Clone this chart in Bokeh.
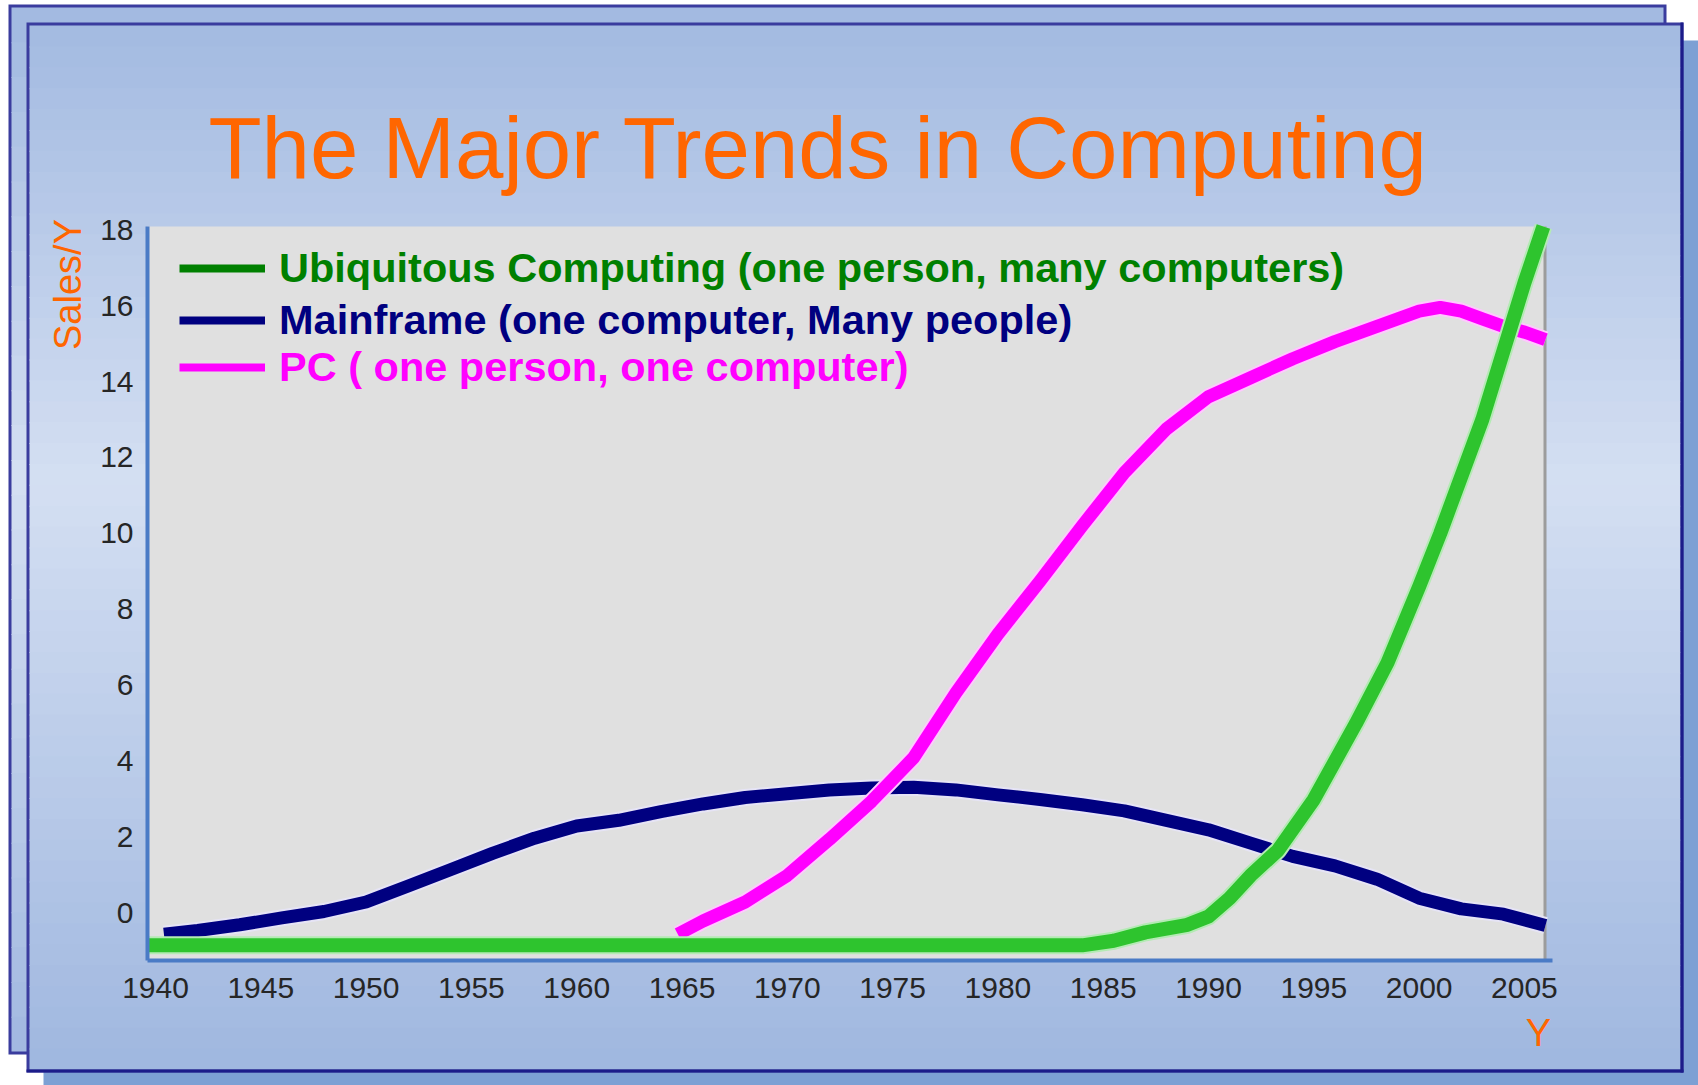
import math
from bokeh.plotting import figure
from bokeh.models import (ColumnDataSource, Range1d, FixedTicker, BoxAnnotation,
                          Label, Legend, LegendItem)
from bokeh.embed import file_html
from bokeh.resources import INLINE

# ---------------- data ----------------
TITLE = "The Major Trends in Computing"
Y_LABEL = "Sales/Y"
X_LABEL = "Y"
x_ticks = [1940, 1945, 1950, 1955, 1960, 1965, 1970, 1975, 1980, 1985, 1990, 1995, 2000, 2005]
y_ticks = [0, 2, 4, 6, 8, 10, 12, 14, 16, 18]

ubi_name = "Ubiquitous Computing (one person, many computers)"
ubi_years = [1939.62, 1984, 1985.5, 1987, 1989, 1990, 1991, 1992, 1993.3, 1995, 1997,
             1998.5, 2000, 2001, 2002, 2003, 2004, 2005, 2005.9]
ubi_values = [-0.84, -0.84, -0.72, -0.5, -0.3, -0.08, 0.4, 1.0, 1.66, 3.0, 5.0,
              6.6, 8.6, 10.0, 11.5, 13.0, 14.8, 16.6, 18.08]

main_name = "Mainframe (one computer, Many people)"
main_years = [1940.4, 1942, 1944, 1946, 1948, 1950, 1952, 1954, 1956, 1958, 1960, 1962,
              1964, 1966, 1968, 1970, 1972, 1974, 1976, 1978, 1980, 1982, 1984, 1986,
              1988, 1990, 1992, 1994, 1996, 1998, 2000, 2002, 2004, 2006.0]
main_values = [-0.55, -0.45, -0.3, -0.12, 0.05, 0.3, 0.72, 1.15, 1.58, 1.98, 2.3, 2.45,
               2.68, 2.88, 3.05, 3.15, 3.25, 3.3, 3.32, 3.25, 3.12, 3.0, 2.86, 2.7,
               2.45, 2.2, 1.85, 1.5, 1.25, 0.9, 0.4, 0.12, -0.02, -0.32]

pc_name = "PC ( one person, one computer)"
pc_years = [1964.8, 1966, 1968, 1970, 1972, 1974, 1976, 1978, 1980, 1982, 1984, 1986,
            1988, 1990, 1992, 1994, 1996, 1998, 2000, 2001, 2002, 2003, 2004, 2005, 2006.0]
pc_values = [-0.55, -0.2, 0.3, 1.0, 1.95, 2.95, 4.1, 5.8, 7.35, 8.75, 10.2, 11.6,
             12.75, 13.6, 14.1, 14.6, 15.05, 15.45, 15.85, 15.95, 15.85, 15.65, 15.45, 15.3, 15.1]

# ---------------- layout (canvas pixels, origin top-left) ----------------
W, H = 1698, 1085
FL, FR, FT, FB = 147, 1545, 226, 960          # plot area box
X0, X1, Y0, Y1 = 1939.62, 2006.0, -1.24, 18.08  # data extent of plot area
pxx = (FR - FL) / (X1 - X0)
pxy = (FB - FT) / (Y1 - Y0)

p = figure(width=W, height=H, output_backend="svg", toolbar_location=None,
           x_range=Range1d(X0 - FL / pxx, X1 + (W - FR) / pxx),
           y_range=Range1d(Y0 - (H - FB) / pxy, Y1 + FT / pxy),
           min_border=0)
p.title.visible = False
p.border_fill_color = "white"
p.background_fill_color = "white"
p.outline_line_color = None
p.grid.visible = False

p.xaxis.ticker = FixedTicker(ticks=x_ticks)
p.yaxis.ticker = FixedTicker(ticks=y_ticks)
p.xaxis.fixed_location = Y0
p.yaxis.fixed_location = X0
p.xaxis.bounds = (X0, X1 + 7 / pxx)
p.yaxis.bounds = (Y0, Y1)
for ax in (p.xaxis[0], p.yaxis[0]):
    ax.major_tick_line_color = None
    ax.minor_tick_line_color = None
    ax.major_tick_in = 0
    ax.major_tick_out = 0
    ax.minor_tick_in = 0
    ax.minor_tick_out = 0
    ax.axis_line_color = "#4A7BC6"
    ax.axis_line_width = 4
    ax.major_label_text_font = "Liberation Sans"
    ax.major_label_text_font_size = "30px"
    ax.major_label_text_color = "#262626"
p.xaxis.major_label_standoff = 17
p.yaxis.major_label_standoff = 14


def box(x0, x1, y0, y1, color):
    b = BoxAnnotation(left=x0, right=x1, top=H - y0, bottom=H - y1,
                      left_units="screen", right_units="screen",
                      top_units="screen", bottom_units="screen",
                      fill_color=color, fill_alpha=1.0, line_color=None, level="underlay")
    p.add_layout(b)
    return b


stops = [(0, (160, 184, 224)), (480, (212, 223, 242)), (1085, (158, 182, 223))]


def grad(y):
    for (ya, ca), (yb, cb) in zip(stops[:-1], stops[1:]):
        if ya <= y <= yb:
            t = (y - ya) / (yb - ya)
            c = [round(a + (b - a) * t) for a, b in zip(ca, cb)]
            return "#%02x%02x%02x" % tuple(c)
    return "#%02x%02x%02x" % stops[-1][1]


def gradient(x0, x1, y0, y1, n=40):
    step = (y1 - y0) / n
    for i in range(n):
        a = y0 + i * step
        b = min(y1, a + step + 1)
        box(x0, x1, a, b, grad((a + b) / 2))


# shadow
box(43, 1698, 40, 1085, "#7DA0D4")
# back slide
box(8, 1666, 4, 1054, "#3A3C9E")
gradient(11, 1663, 7, 1051, n=30)
# front slide
box(26, 1683, 22, 1072, "#3A3C9E")
gradient(29, 1680, 25, 1069, n=50)
box(1680, 1683, 22, 1072, "#1C1C8A")
box(26, 1683, 1069, 1072, "#1C1C8A")
# plot area and its right border
box(FL, FR, FT, FB, "#E0E0E0")
box(FR - 2, FR + 1, FT, FB, "#9C9C9C")

# ---------------- series ----------------
series = [
    (main_years, main_values, "#000080", "#E6E4F6", 13),
    (pc_years, pc_values, "#FF00FF", "#FFC8FF", 13),
    (ubi_years, ubi_values, "#2EC42E", "#B4EAB4", 14),
]
for xs, ys, col, halo, lw in series:
    src = ColumnDataSource(data=dict(x=xs, y=ys))
    p.line("x", "y", source=src, line_color=halo, line_width=lw + 4, line_join="round")
    p.line("x", "y", source=src, line_color=col, line_width=lw, line_join="round")

# ---------------- legend ----------------
legend_specs = [
    (ubi_name, "#008000", "#008000", 268),
    (main_name, "#000080", "#000080", 320),
    (pc_name, "#FF00FF", "#FF00FF", 367),
]
ITEM_H = 60
nan = float("nan")
for name, lcol, tcol, cy in legend_specs:
    dummy = ColumnDataSource(data=dict(x=[nan, nan], y=[nan, nan]))
    r = p.line("x", "y", source=dummy, line_color=lcol, line_width=8)
    lg = Legend(items=[LegendItem(label=name, renderers=[r])],
                location=(179, H - (cy + ITEM_H // 2)),
                glyph_width=86, glyph_height=ITEM_H, label_height=ITEM_H,
                label_standoff=14, padding=0, margin=0, spacing=0,
                border_line_color=None, background_fill_alpha=0,
                label_text_font="Liberation Sans", label_text_font_style="bold",
                label_text_font_size="41.5px", label_text_color=tcol)
    p.add_layout(lg)

# ---------------- texts ----------------
p.add_layout(Label(x=818, y=H - 147, x_units="screen", y_units="screen",
                   text=TITLE, text_font="Liberation Sans", text_font_size="87px",
                   text_color="#FF6600", text_align="center", text_baseline="alphabetic"))
p.add_layout(Label(x=67, y=H - 284, x_units="screen", y_units="screen",
                   text=Y_LABEL, angle=math.pi / 2, text_font="Liberation Sans",
                   text_font_size="38px", text_color="#FF6600",
                   text_align="center", text_baseline="middle"))
p.add_layout(Label(x=1538, y=H - 1032, x_units="screen", y_units="screen",
                   text=X_LABEL, text_font="Liberation Sans",
                   text_font_size="38px", text_color="#FF6600",
                   text_align="center", text_baseline="middle"))

open("out.html", "w").write(file_html(p, INLINE))
